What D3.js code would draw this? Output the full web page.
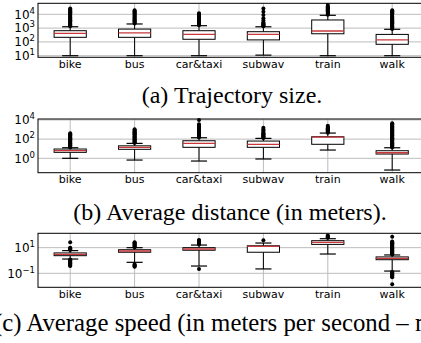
<!DOCTYPE html>
<html>
<head>
<meta charset="utf-8">
<script src="https://cdn.jsdelivr.net/npm/d3@7/dist/d3.min.js"></script>
<style>
    body { margin: 0; background: #fff; }
    svg { display: block; }
</style>
</head>
<body>
<svg id="chart" width="421" height="343"></svg>
<script>
// modes of transport (x categories)
const modes = ['bike', 'bus', 'car&taxi', 'subwav', 'train', 'walk'];

// (a) trajectory size
const sizeLow = [10, 10, 10, 11, 10, 10];
const sizeQ1 = [215, 215, 155, 140, 390, 67];
const sizeMed = [420, 450, 350, 350, 620, 140];
const sizeQ3 = [650, 850, 650, 550, 3900, 350];
const sizeHigh = [1260, 2000, 1500, 1250, 8500, 820];
const sizeFliers = [
    [1350, 1550, 1800, 2100, 2400, 2800, 3200, 3700, 4300, 5000, 5800, 6700, 7800, 9000, 10500, 12000, 14000, 16500, 19000, 22500, 27000],
    [2150, 2450, 2800, 3200, 3700, 4300, 5000, 5800, 6700, 7800, 9000, 10500, 12000, 14000, 16500, 20000],
    [1600, 1850, 2100, 2450, 2800, 3200, 3700, 4300, 5000, 5800, 6700, 7800, 9000, 10500, 12000],
    [1350, 1450, 1600, 1800, 2000, 2200, 2700, 3500, 5100, 8900, 15500, 27000],
    [9500, 11000, 12500, 14500, 17000, 20000, 23500, 27500, 32000, 38000, 47000],
    [880, 1000, 1150, 1300, 1500, 1750, 2000, 2300, 2700, 3100, 3600, 4200, 4900, 5700, 6600, 7700, 9000, 10500, 12000, 14000, 16500, 20000]
];
const sizeTicks = [1, 2, 3, 4];

// (b) average distance
const distLow = [1.0, 0.66, 0.52, 0.85, 7.3, 0.06];
const distQ1 = [4.2, 8.7, 14, 14, 29, 2.8];
const distMed = [6.2, 14, 36, 28, 165, 3.8];
const distQ3 = [9.3, 20, 68, 63, 178, 6.2];
const distHigh = [12.7, 36, 140, 120, 430, 12.6];
const distFliers = [
    [13.5, 16, 19, 23, 27, 32, 38, 45, 54, 64, 76, 90, 107, 127, 150, 180, 215, 255, 300, 350, 400],
    [40, 47, 56, 66, 79, 94, 112, 133, 158, 188, 224, 266, 316, 376, 447, 531, 631, 750, 900, 1100],
    [150, 180, 210, 250, 300, 355, 420, 500, 600, 710, 850, 1000, 1200, 1400, 1700, 2000, 2400, 2900, 3500, 10000],
    [130, 150, 175, 205, 240, 280, 330, 390, 460, 590, 800, 1100, 1550],
    [470, 560, 660, 790, 940, 1100, 1330, 1580, 1880, 2500],
    [13.5, 16, 19, 23, 27, 32, 38, 45, 54, 64, 76, 90, 107, 127, 150, 180, 215, 255, 300, 360, 430, 510, 600, 720, 850, 1000, 1200, 1450, 1700, 2050, 2450, 2900, 3500, 4500]
];
const distTicks = [0, 2, 4];

// (c) average speed
const speedLow = [1.3, 0.72, 0.37, 0.22, 3.2, 0.15];
const speedQ1 = [2.37, 4.4, 6.3, 4.4, 18, 1.15];
const speedMed = [3.0, 5.5, 7.9, 12.7, 26, 1.47];
const speedQ3 = [3.9, 6.9, 10, 14, 35, 1.9];
const speedHigh = [5.9, 10, 16, 23, 50, 2.7];
const speedFliers = [
    [6.5, 7.2, 8, 9, 10, 26, 1.2, 1.05, 0.92, 0.8, 0.7, 0.61, 0.53, 0.46, 0.4, 0.37],
    [11, 12.5, 14, 16, 18, 21, 24, 26, 0.5, 0.42, 0.36, 0.33],
    [18, 20, 23, 26, 30, 35, 40, 0.22],
    [38],
    [58, 66, 76, 87],
    [2.9, 3.2, 3.6, 4, 4.5, 5, 5.6, 6.3, 7, 7.9, 8.9, 10, 11.2, 12.6, 14, 16, 17.8, 20, 22.4, 25, 28, 30, 72,
        0.13, 0.115, 0.1, 0.09, 0.08, 0.07, 0.062, 0.055, 0.05, 0.014]
];
const speedTicks = [-1, 1];

const captions = ['(a) Trajectory size.', '(b) Average distance (in meters).', '(c) Average speed (in meters per second – m/s).'];

// layout of the three panels
const panels = [
    {top: 3.3, bottom: 57.3, lo: 0.884, hi: 4.8, ticks: sizeTicks, capY: 102.5, capX: 232, capSize: 24, anchor: 'middle',
        low: sizeLow, q1: sizeQ1, med: sizeMed, q3: sizeQ3, high: sizeHigh, fliers: sizeFliers, caption: captions[0]},
    {top: 119, bottom: 172.7, lo: -1.5, hi: 4.1, ticks: distTicks, capY: 220, capX: 230, capSize: 24, anchor: 'middle',
        low: distLow, q1: distQ1, med: distMed, q3: distQ3, high: distHigh, fliers: distFliers, caption: captions[1]},
    {top: 233.3, bottom: 287.3, lo: -2.09, hi: 2.12, ticks: speedTicks, capY: 331, capX: -6, capSize: 24.8, anchor: 'start',
        low: speedLow, q1: speedQ1, med: speedMed, q3: speedQ3, high: speedHigh, fliers: speedFliers, caption: captions[2]}
];

const left = 38;
const step = 64.4;
const right = left + step * modes.length;

const svg = d3.select('#chart');

const x = d3.scaleBand()
    .domain(modes)
    .range([left, right])
    .paddingInner(0)
    .paddingOuter(0);

const boxW = x.bandwidth() * 0.5;
const capW = boxW * 0.5;
const cx = m => x(m) + x.bandwidth() / 2;

panels.forEach(function (p) {
    const y = d3.scaleLog()
        .domain([Math.pow(10, p.lo), Math.pow(10, p.hi)])
        .range([p.bottom, p.top]);

    const g = svg.append('g');
    const tickVals = p.ticks.map(e => Math.pow(10, e));

    // grid
    g.selectAll('.hgrid')
        .data(tickVals)
        .enter().append('line')
        .attr('x1', left).attr('x2', right)
        .attr('y1', d => y(d)).attr('y2', d => y(d))
        .attr('stroke', '#bdbdbd').attr('stroke-width', 1);

    g.selectAll('.vgrid')
        .data(modes)
        .enter().append('line')
        .attr('x1', d => cx(d)).attr('x2', d => cx(d))
        .attr('y1', p.top).attr('y2', p.bottom)
        .attr('stroke', '#bdbdbd').attr('stroke-width', 1);

    // boxes
    modes.forEach(function (m, i) {
        const c = cx(m);
        const bg = g.append('g');

        bg.append('line')
            .attr('x1', c).attr('x2', c)
            .attr('y1', y(p.low[i])).attr('y2', y(p.q1[i]))
            .attr('stroke', '#000').attr('stroke-width', 1);
        bg.append('line')
            .attr('x1', c).attr('x2', c)
            .attr('y1', y(p.q3[i])).attr('y2', y(p.high[i]))
            .attr('stroke', '#000').attr('stroke-width', 1);

        [p.low[i], p.high[i]].forEach(function (v) {
            bg.append('line')
                .attr('x1', c - capW / 2).attr('x2', c + capW / 2)
                .attr('y1', y(v)).attr('y2', y(v))
                .attr('stroke', '#000').attr('stroke-width', 1.2);
        });

        bg.append('rect')
            .attr('x', c - boxW / 2)
            .attr('y', y(p.q3[i]))
            .attr('width', boxW)
            .attr('height', y(p.q1[i]) - y(p.q3[i]))
            .attr('fill', '#fff')
            .attr('stroke', '#000').attr('stroke-width', 1);

        bg.append('line')
            .attr('x1', c - boxW / 2).attr('x2', c + boxW / 2)
            .attr('y1', y(p.med[i])).attr('y2', y(p.med[i]))
            .attr('stroke', '#c8373a').attr('stroke-width', 1.3);

        bg.selectAll('circle')
            .data(p.fliers[i])
            .enter().append('circle')
            .attr('cx', c)
            .attr('cy', d => y(d))
            .attr('r', 2)
            .attr('fill', '#000');
    });

    // frame
    g.append('rect')
        .attr('x', left).attr('y', p.top)
        .attr('width', right - left).attr('height', p.bottom - p.top)
        .attr('fill', 'none').attr('stroke', '#000').attr('stroke-width', 1);

    // y axis labels
    const yAxis = d3.axisLeft(y)
        .tickValues(tickVals)
        .tickSize(0)
        .tickPadding(3)
        .tickFormat('');
    const ya = g.append('g')
        .attr('transform', 'translate(' + left + ',0)')
        .call(yAxis);
    ya.select('.domain').remove();
    ya.selectAll('.tick text')
        .attr('font-family', '"DejaVu Sans", sans-serif')
        .attr('font-size', 12)
        .attr('fill', '#000')
        .each(function (d) {
            const t = d3.select(this);
            const e = Math.round(Math.log10(d));
            t.append('tspan').text('10');
            t.append('tspan')
                .attr('font-size', 8.5)
                .attr('dy', -5)
                .text(e < 0 ? '\u2212' + (-e) : String(e));
        });

    // x axis labels
    const xAxis = d3.axisBottom(x)
        .tickSize(0)
        .tickPadding(3);
    const xa = g.append('g')
        .attr('transform', 'translate(0,' + p.bottom + ')')
        .call(xAxis);
    xa.select('.domain').remove();
    xa.selectAll('.tick text')
        .attr('font-family', '"DejaVu Sans", sans-serif')
        .attr('font-size', 11)
        .attr('fill', '#000');

    // caption
    svg.append('text')
        .attr('x', p.capX)
        .attr('y', p.capY)
        .attr('text-anchor', p.anchor)
        .attr('font-family', '"Liberation Serif", "Times New Roman", serif')
        .attr('font-size', p.capSize)
        .attr('fill', '#000')
        .text(p.caption);
});
</script>
</body>
</html>
